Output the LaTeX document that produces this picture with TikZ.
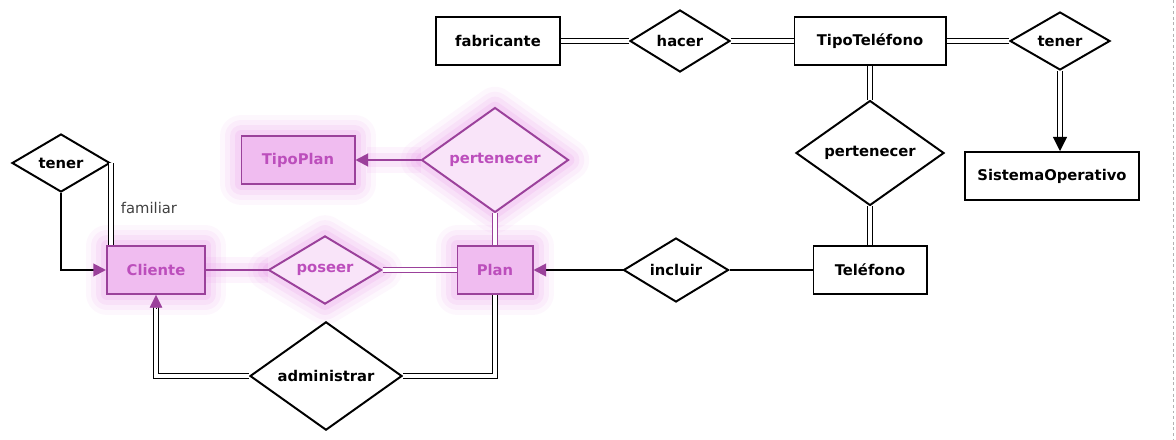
\documentclass[tikz,border=0pt]{standalone}
\usepackage{fontspec}
\setmainfont{DejaVu Sans}
\usetikzlibrary{arrows.meta,shapes.geometric,calc}
\definecolor{erpurple}{RGB}{155,65,155}
\definecolor{erpink}{RGB}{240,188,240}
\definecolor{ertext}{RGB}{188,78,188}
\definecolor{erglow}{RGB}{225,120,225}

\begin{document}
\begin{tikzpicture}[
  x=0.025cm,y=-0.025cm,
  every node/.style={font=\bfseries\fontsize{10.5}{12}\selectfont},
  entity/.style={draw,line width=1.4pt,minimum height=1.2cm,inner sep=2pt,fill=white},
  relation/.style={draw,diamond,line width=1.4pt,inner sep=0pt,fill=white},
  glow/.style={preaction={draw=erglow,line join=round,line width=30pt,opacity=0.06},
               preaction={draw=erglow,line join=round,line width=23pt,opacity=0.08},
               preaction={draw=erglow,line join=round,line width=16pt,opacity=0.1},
               preaction={draw=erglow,line join=round,line width=9pt,opacity=0.13}},
  pentity/.style={entity,glow,draw=erpurple,fill=erpink,text=ertext},
  prelation/.style={relation,glow,draw=erpurple,fill=erpink!40,text=ertext},
  link/.style={line width=1.4pt},
  pline/.style={link,draw=erpurple,
                preaction={draw=erglow,line width=18pt,opacity=0.08},
                preaction={draw=erglow,line width=10pt,opacity=0.12}},
  dbl/.style={double,double distance=2.4pt,line width=1.2pt},
  ptip/.style={-{Triangle[length=9pt,width=9pt,color=erpurple]}},
  btip/.style={-{Triangle[length=10pt,width=10pt]}},
]
  \useasboundingbox (0,0) rectangle (1176,440);

  % Phone side
  \node[entity,minimum width=3.1cm] (fabricante) at (498,41) {fabricante};
  \node[relation,minimum width=2.5cm,minimum height=1.55cm] (hacer) at (680,41) {hacer};
  \node[entity,minimum width=3.775cm] (tipoTel) at (870,41) {TipoTeléfono};
  \node[relation,minimum width=2.5cm,minimum height=1.45cm] (tenerSO) at (1060,41) {tener};
  \node[entity,minimum width=4.35cm] (sisOp) at (1052,176) {SistemaOperativo};
  \node[relation,minimum width=3.7cm,minimum height=2.175cm] (pertTel) at (870,153) {pertenecer};
  \node[entity,minimum width=2.825cm] (telefono) at (870,270) {Teléfono};
  \node[relation,minimum width=2.625cm,minimum height=1.6cm] (incluir) at (676,270) {incluir};

  % Plan side
  \node[pentity,minimum width=1.875cm] (plan) at (495,270) {Plan};
  \node[prelation,minimum width=2.825cm,minimum height=1.7cm] (poseer) at (325,270) {poseer};
  \node[pentity,minimum width=2.45cm] (cliente) at (156,270) {Cliente};
  \node[prelation,minimum width=3.675cm,minimum height=2.125cm] (pertPlan) at (495,160) {pertenecer};
  \node[pentity,minimum width=2.825cm] (tipoPlan) at (298,160) {TipoPlan};
  \node[relation,minimum width=2.45cm,minimum height=1.45cm] (tenerFam) at (61,163) {tener};
  \node[relation,minimum width=3.8cm,minimum height=2.2cm] (admin) at (326,376) {administrar};
  \node[font=\fontsize{10.5}{12}\selectfont,text=black!75,anchor=west] (familiar) at (116,208) {familiar};

  % Phone links
  \draw[dbl] (fabricante.east) -- (hacer.west);
  \draw[dbl] (hacer.east) -- (tipoTel.west);
  \draw[dbl] (tipoTel.east) -- (tenerSO.west);
  \coordinate (soTop) at (tenerSO.south |- sisOp.north);
  \draw[dbl,shorten >=7pt] (tenerSO.south) -- (soTop);
  \draw[btip] ([yshift=10pt]soTop) -- (soTop);
  \draw[dbl] (tipoTel.south) -- (pertTel.north);
  \draw[dbl] (pertTel.south) -- (telefono.north);
  \draw[link] (telefono.west) -- (incluir.east);
  \draw[link,ptip] (incluir.west) -- (plan.east);

  % Plan links
  \draw[dbl,draw=erpurple] (plan.north) -- (pertPlan.south);
  \draw[pline,ptip] (pertPlan.west) -- (tipoPlan.east);
  \draw[dbl,draw=erpurple] (poseer.east) -- (plan.west);
  \draw[pline] (cliente.east) -- (poseer.west);
  \draw[dbl] (admin.east) -| (plan.south);
  \draw[dbl,shorten >=6pt] (admin.west) -| (cliente.south);
  \draw[ptip] ([yshift=-9pt]cliente.south) -- (cliente.south);

  % Recursive link
  \draw[link,ptip] (tenerFam.south) |- (cliente.west);
  \draw[dbl] (tenerFam.east) -- (tenerFam.east |- cliente.north);

  % Page edge
  \draw[black!30,dash pattern=on 2pt off 2pt] (1173,0) -- (1173,440);
\end{tikzpicture}
\end{document}
